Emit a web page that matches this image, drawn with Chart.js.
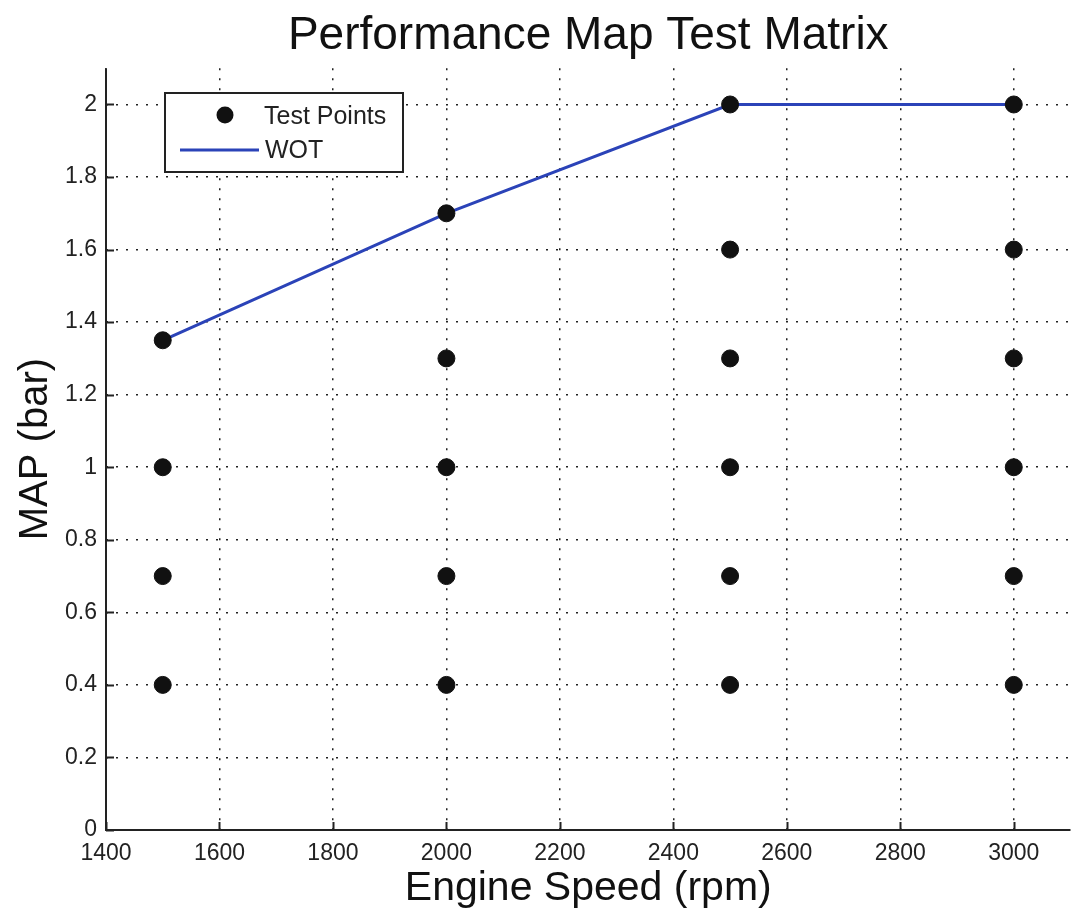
<!DOCTYPE html>
<html>
<head>
<meta charset="utf-8">
<script src="https://cdn.jsdelivr.net/npm/chart.js@4.4.1/dist/chart.umd.min.js"></script>
<style>
  html, body { margin: 0; padding: 0; background: #fff; overflow: hidden; }
  #wrap { width: 1080px; height: 913px; position: relative; }
</style>
</head>
<body>
<div id="wrap"><canvas id="c"></canvas></div>
<script>
  // engine speed columns of the test matrix, MAP setpoints per column
  var speeds = [1500, 2000, 2500, 3000];
  var mapAt1500 = [0.4, 0.7, 1.0, 1.35];
  var mapAt2000 = [0.4, 0.7, 1.0, 1.3, 1.7];
  var mapAt2500 = [0.4, 0.7, 1.0, 1.3, 1.6, 2.0];
  var mapAt3000 = [0.4, 0.7, 1.0, 1.3, 1.6, 2.0];

  // wide open throttle curve
  var wotSpeed = [1500, 2000, 2500, 3000];
  var wotMap = [1.35, 1.7, 2.0, 2.0];

  var xTicks = [1400, 1600, 1800, 2000, 2200, 2400, 2600, 2800, 3000];
  var yTicks = [0, 0.2, 0.4, 0.6, 0.8, 1, 1.2, 1.4, 1.6, 1.8, 2];

  var FONT = '"Liberation Sans", Arial, Helvetica, sans-serif';
  var WOT_BLUE = '#2b43b8';

  var testPoints = [];
  [mapAt1500, mapAt2000, mapAt2500, mapAt3000].forEach(function (col, i) {
    col.forEach(function (v) { testPoints.push({ x: speeds[i], y: v }); });
  });
  var wotPoints = wotSpeed.map(function (s, i) { return { x: s, y: wotMap[i] }; });

  // axis lines with short inward tick marks
  var axesPlugin = {
    id: 'axesInward',
    afterDatasetsDraw: function (chart) {
      var ctx = chart.ctx, a = chart.chartArea;
      var xs = chart.scales.x, ys = chart.scales.y;
      ctx.save();
      ctx.strokeStyle = '#222';
      ctx.lineWidth = 2;
      ctx.beginPath();
      ctx.moveTo(a.left, a.top);
      ctx.lineTo(a.left, a.bottom);
      ctx.lineTo(a.right, a.bottom);
      ctx.stroke();
      ctx.beginPath();
      xTicks.forEach(function (t) {
        var px = Math.round(xs.getPixelForValue(t)) + 0.5;
        ctx.moveTo(px, a.bottom);
        ctx.lineTo(px, a.bottom - 8);
      });
      yTicks.forEach(function (t) {
        var py = Math.round(ys.getPixelForValue(t)) + 0.5;
        ctx.moveTo(a.left, py);
        ctx.lineTo(a.left + 8, py);
      });
      ctx.stroke();
      ctx.restore();
    }
  };

  // boxed legend in the upper left corner of the plot
  var legendBox = {
    id: 'legendBox',
    afterDraw: function (chart) {
      var ctx = chart.ctx;
      var x = 165, y = 93, w = 238, h = 79;
      ctx.save();
      ctx.fillStyle = '#fff';
      ctx.fillRect(x, y, w, h);
      ctx.strokeStyle = '#222';
      ctx.lineWidth = 2;
      ctx.strokeRect(x, y, w, h);
      ctx.fillStyle = '#111';
      ctx.beginPath();
      ctx.arc(x + 60, y + 22, 8.5, 0, Math.PI * 2);
      ctx.fill();
      ctx.strokeStyle = WOT_BLUE;
      ctx.lineWidth = 3;
      ctx.beginPath();
      ctx.moveTo(x + 15, y + 57);
      ctx.lineTo(x + 94, y + 57);
      ctx.stroke();
      ctx.fillStyle = '#222';
      ctx.font = '25px ' + FONT;
      ctx.textBaseline = 'middle';
      ctx.fillText('Test Points', x + 99, y + 24);
      ctx.fillText('WOT', x + 100, y + 58);
      ctx.restore();
    }
  };

  function plain(v) { return String(v); }

  new Chart(document.getElementById('c'), {
    type: 'scatter',
    data: {
      datasets: [
        {
          label: 'WOT',
          data: wotPoints,
          showLine: true,
          borderColor: WOT_BLUE,
          borderWidth: 3,
          pointRadius: 0,
          order: 2
        },
        {
          label: 'Test Points',
          data: testPoints,
          pointRadius: 8.5,
          pointBackgroundColor: '#111',
          pointBorderColor: '#111',
          order: 1
        }
      ]
    },
    options: {
      responsive: true,
      maintainAspectRatio: false,
      animation: false,
      layout: { padding: { left: 0, right: 4, top: 0, bottom: 0 } },
      plugins: {
        legend: { display: false },
        tooltip: { enabled: false },
        title: {
          display: true,
          text: 'Performance Map Test Matrix',
          fullSize: false,
          color: '#111',
          font: { family: FONT, size: 46, weight: 'normal' },
          lineHeight: 1.1,
          padding: { top: 9, bottom: 4 }
        }
      },
      scales: {
        x: {
          type: 'linear',
          min: 1400,
          max: 3100,
          afterBuildTicks: function (s) { s.ticks = xTicks.map(function (v) { return { value: v }; }); },
          afterFit: function (s) { s.height = 83; },
          border: { display: false, dash: [2, 8] },
          grid: { color: '#222', lineWidth: 1.5, drawTicks: false },
          ticks: { color: '#222', padding: 10, font: { family: FONT, size: 23 }, maxRotation: 0, callback: plain },
          title: {
            display: true,
            text: 'Engine Speed (rpm)',
            color: '#111',
            font: { family: FONT, size: 41 },
            padding: { top: 0, bottom: 0 }
          }
        },
        y: {
          type: 'linear',
          min: 0,
          max: 2.1,
          afterBuildTicks: function (s) { s.ticks = yTicks.map(function (v) { return { value: v }; }); },
          afterFit: function (s) { s.width = 106; },
          border: { display: false, dash: [2, 8] },
          grid: { color: '#222', lineWidth: 1.5, drawTicks: false },
          ticks: { color: '#222', padding: 9, font: { family: FONT, size: 23 }, callback: plain },
          title: {
            display: true,
            text: 'MAP (bar)',
            color: '#111',
            font: { family: FONT, size: 40 },
            padding: { top: 12, bottom: 10 }
          }
        }
      }
    },
    plugins: [axesPlugin, legendBox]
  });
</script>
</body>
</html>
